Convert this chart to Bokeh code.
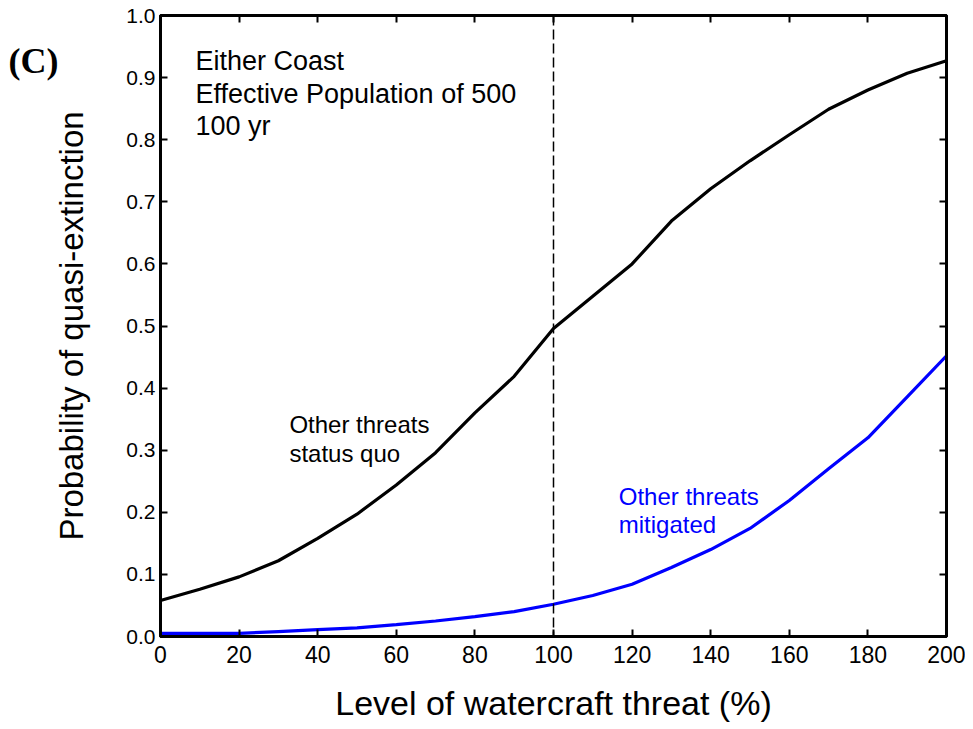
from bokeh.plotting import figure
from bokeh.models import Range1d, LinearAxis, FixedTicker, Label, Span, PrintfTickFormatter
from bokeh.embed import file_html
from bokeh.resources import INLINE

threat = [0, 10, 20, 30, 40, 50, 60, 70, 80, 90, 100, 110, 120, 130, 140, 150, 160, 170, 180, 190, 200]
status_quo = [0.058, 0.076, 0.096, 0.122, 0.158, 0.197, 0.244, 0.296, 0.360, 0.419, 0.496, 0.548, 0.600, 0.669, 0.721,
              0.766, 0.808, 0.849, 0.880, 0.907, 0.927]
mitigated = [0.005, 0.005, 0.005, 0.008, 0.011, 0.014, 0.019, 0.025, 0.032, 0.040, 0.052, 0.066, 0.084, 0.111, 0.140,
             0.174, 0.219, 0.270, 0.320, 0.386, 0.452]
x_ticks = [0, 20, 40, 60, 80, 100, 120, 140, 160, 180, 200]
y_ticks = [0.0, 0.1, 0.2, 0.3, 0.4, 0.5, 0.6, 0.7, 0.8, 0.9, 1.0]

FONT = "Liberation Sans"

H = 729
p = figure(width=965, height=H, output_backend="svg", toolbar_location=None,
           x_range=Range1d(0, 200), y_range=Range1d(0, 1),
           min_border_left=158, min_border_right=19, min_border_top=15, min_border_bottom=93)
p.grid.visible = False
p.outline_line_color = "black"
p.outline_line_width = 3
p.background_fill_color = "white"
p.border_fill_color = "white"

def style_axis(ax, labels=True):
    ax.axis_line_width = 3
    ax.axis_line_color = "black"
    ax.major_tick_in = 7
    ax.major_tick_out = 0
    ax.major_tick_line_width = 2
    ax.major_tick_line_color = "black"
    ax.minor_tick_line_color = None
    ax.major_label_text_color = "black"
    ax.axis_label_text_color = "black"
    if not labels:
        ax.major_label_text_font_size = "0px"
        ax.major_label_text_color = None

xa = p.xaxis[0]
xa.ticker = FixedTicker(ticks=x_ticks)
style_axis(xa)
xa.major_label_text_font = FONT
xa.major_label_text_font_size = "23px"
xa.major_label_standoff = 9
xa.axis_label = "Level of watercraft threat (%)"
xa.axis_label_text_font = FONT
xa.axis_label_text_font_size = "34px"
xa.axis_label_text_font_style = "normal"
xa.axis_label_standoff = 18

ya = p.yaxis[0]
ya.ticker = FixedTicker(ticks=y_ticks)
ya.formatter = PrintfTickFormatter(format="%.1f")
style_axis(ya)
ya.major_label_text_font = FONT
ya.major_label_text_font_size = "21px"
ya.major_label_standoff = 5
ya.axis_label = "Probability of quasi-extinction"
ya.axis_label_text_font = FONT
ya.axis_label_text_font_size = "33px"
ya.axis_label_text_font_style = "normal"
ya.axis_label_standoff = 33

top = LinearAxis(ticker=FixedTicker(ticks=x_ticks))
style_axis(top, labels=False)
p.add_layout(top, "above")
right = LinearAxis(ticker=FixedTicker(ticks=y_ticks))
style_axis(right, labels=False)
p.add_layout(right, "right")

p.add_layout(Span(location=100, dimension="height", line_color="black", line_width=1.5, line_dash="10 4"))

p.line(threat, status_quo, line_color="black", line_width=3.2)
p.line(threat, mitigated, line_color="#0000ff", line_width=3.2)

def lab(x, y, t, size, color="black", font=FONT, style="normal"):
    p.add_layout(Label(x=x, y=y, text=t, text_font=font, text_font_size=size, text_color=color,
                       text_font_style=style, text_baseline="alphabetic"))

lab(8.9, (636 - 60) / 621, "Either Coast", "27px")
lab(8.9, (636 - 93) / 621, "Effective Population of 500", "27px")
lab(8.9, (636 - 125) / 621, "100 yr", "27px")
lab(32.8, (636 - 424) / 621, "Other threats", "24px")
lab(32.8, (636 - 453) / 621, "status quo", "24px")
lab(116.6, (636 - 496) / 621, "Other threats", "24px", color="#0000ff")
lab(116.6, (636 - 524) / 621, "mitigated", "24px", color="#0000ff")

# panel tag, placed in the left border panel (screen units from the panel's bottom-left)
p.add_layout(Label(x=8, y=576, x_units="screen", y_units="screen", text="(C)",
                   text_font="Liberation Serif", text_font_size="36px", text_font_style="bold",
                   text_color="black", text_baseline="alphabetic"), "left")

open("out.html", "w").write(file_html(p, INLINE))
